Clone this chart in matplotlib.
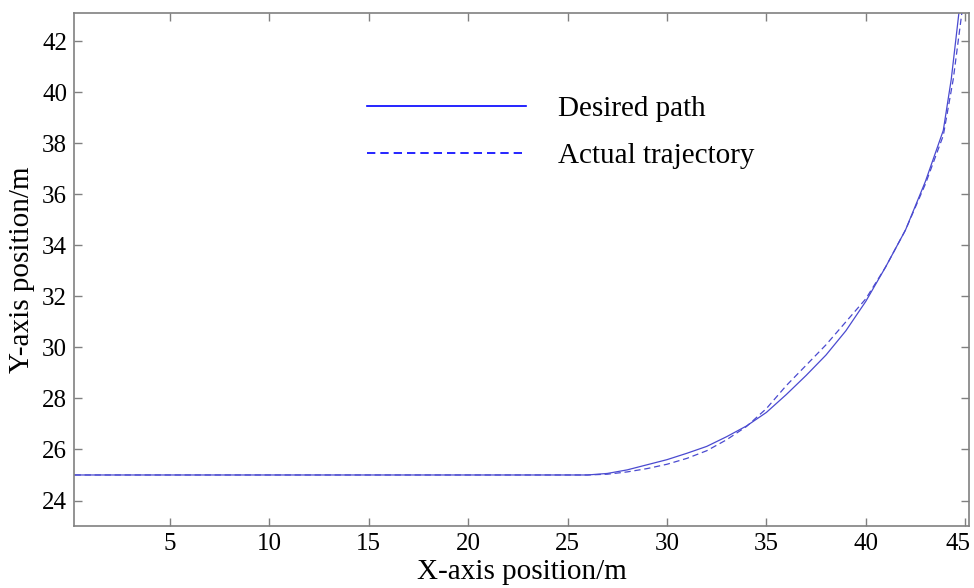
import numpy as np
import matplotlib
matplotlib.use("Agg")
import matplotlib.pyplot as plt
from matplotlib.transforms import ScaledTranslation

# desired path (solid)
desired_x = [0.2, 26.0, 27.0, 28.0, 29.0, 30.0, 31.0, 32.0, 33.0, 34.0, 35.0,
             36.0, 37.0, 38.0, 39.0, 40.0, 41.0, 42.0, 43.0, 43.9, 44.3, 44.7]
desired_y = [25.0, 25.0, 25.06, 25.2, 25.4, 25.6, 25.85, 26.12, 26.5, 26.92, 27.45,
             28.15, 28.9, 29.7, 30.65, 31.8, 33.15, 34.6, 36.5, 38.5, 40.5, 43.2]

# actual trajectory (dashed)
actual_x = [0.2, 26.0, 27.0, 28.0, 29.0, 30.0, 31.0, 32.0, 33.0, 34.0, 35.0,
            36.0, 37.0, 38.0, 39.0, 40.0, 41.0, 42.0, 43.0, 43.9, 44.4, 44.85]
actual_y = [25.0, 25.0, 25.03, 25.12, 25.25, 25.42, 25.65, 25.95, 26.38, 26.9, 27.6,
            28.5, 29.3, 30.1, 31.0, 31.9, 33.15, 34.6, 36.4, 38.3, 40.5, 43.2]

x_ticks = [5, 10, 15, 20, 25, 30, 35, 40, 45]
y_ticks = [24, 26, 28, 30, 32, 34, 36, 38, 40, 42]

plt.rcParams['font.family'] = ['Liberation Serif', 'DejaVu Serif']

fig = plt.figure(figsize=(9.74, 5.88), dpi=100)
ax = fig.add_axes([0.076, 0.1054, 0.919, 0.8725])

line_col = '#4a4ad0'
ax.plot(desired_x, desired_y, color=line_col, lw=0.9, label='Desired path')
ax.plot(actual_x, actual_y, color=line_col, lw=0.9, ls=(0, (5, 3)), label='Actual trajectory')

ax.set_xlim(0.17, 45.2)
ax.set_ylim(23.0, 43.1)
ax.set_xticks(x_ticks)
ax.set_yticks(y_ticks)

for s in ax.spines.values():
    s.set_color('#808080')
    s.set_linewidth(1.2)
ax.tick_params(direction='in', length=6, width=1, color='#808080',
               top=True, right=True, labelsize=18, labelcolor='black', pad=5)

# last x label sits a bit left so it stays inside the figure
last = ax.get_xticklabels()[-1]
last.set_transform(last.get_transform() + ScaledTranslation(-7 / 100, 0, fig.dpi_scale_trans))

ax.set_xlabel('X-axis position/m', fontsize=21, labelpad=3)
ax.set_ylabel('Y-axis position/m', fontsize=21, labelpad=5)

leg = ax.legend(loc='upper left', bbox_to_anchor=(0.327, 0.839), frameon=False,
                fontsize=21, handlelength=5.45, handletextpad=1.1, labelspacing=0.72,
                borderpad=0, borderaxespad=0)
for h in leg.get_lines():
    h.set_color('blue')
    h.set_linewidth(1.2)

fig.savefig('out.png', dpi=100)
